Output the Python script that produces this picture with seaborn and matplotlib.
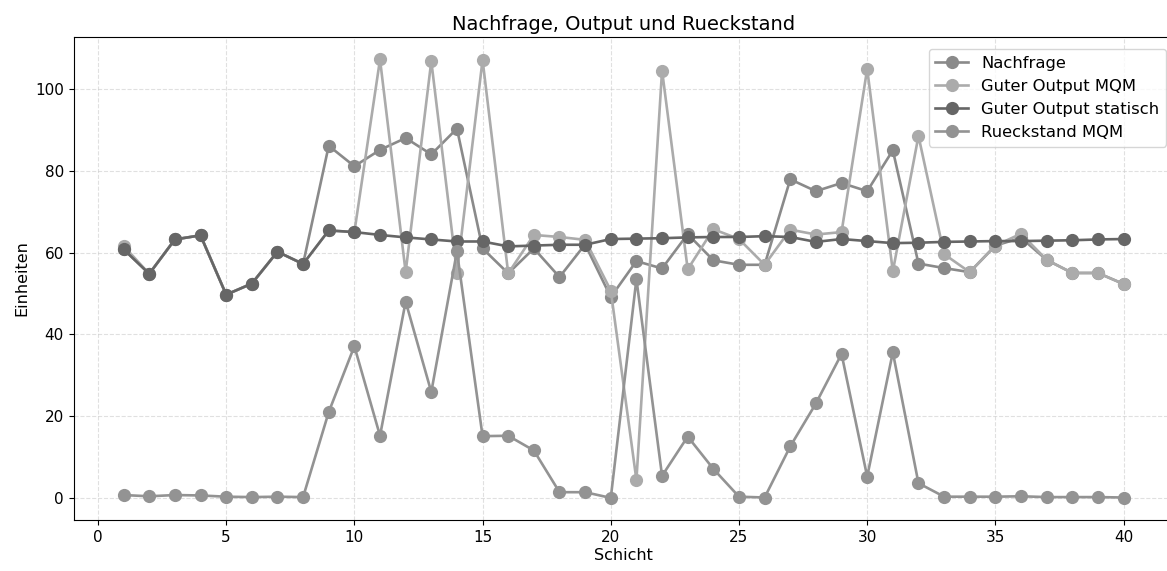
import matplotlib
matplotlib.use("Agg")
import matplotlib.pyplot as plt
import seaborn as sns
import pandas as pd

schicht = list(range(1, 41))

nachfrage = [60.8, 54.8, 63.2, 64.2, 49.7, 52.4, 60.2, 57.2, 86.1, 81.1,
             85.1, 88.0, 84.0, 90.3, 61.0, 54.9, 61.0, 54.0, 62.0, 49.1,
             57.9, 56.1, 64.5, 58.1, 57.0, 57.0, 77.9, 75.0, 77.0, 75.0,
             85.0, 57.3, 56.2, 55.2, 61.7, 63.6, 58.2, 55.0, 55.0, 52.3]

output_mqm = [61.6, 54.8, 63.2, 64.2, 49.7, 52.4, 60.2, 57.2, 65.4, 65.0,
              107.2, 55.2, 106.8, 55.0, 107.1, 54.9, 64.3, 63.8, 63.1, 50.7,
              4.4, 104.5, 55.9, 65.7, 63.3, 57.0, 65.6, 64.4, 65.0, 104.9,
              55.4, 88.5, 59.6, 55.2, 61.7, 64.6, 58.2, 55.0, 55.0, 52.3]

output_statisch = [60.8, 54.8, 63.2, 64.2, 49.7, 52.4, 60.2, 57.2, 65.4, 65.0,
                   64.3, 63.7, 63.2, 62.7, 62.7, 61.5, 61.7, 61.9, 61.9, 63.3,
                   63.4, 63.5, 63.7, 63.8, 63.8, 64.0, 63.8, 62.6, 63.3, 62.8,
                   62.3, 62.4, 62.6, 62.7, 62.8, 62.8, 62.9, 63.0, 63.2, 63.3]

rueckstand = [0.7, 0.4, 0.7, 0.6, 0.3, 0.2, 0.3, 0.2, 21.0, 37.1,
              15.2, 48.0, 25.9, 60.3, 15.1, 15.2, 11.6, 1.4, 1.4, 0.0,
              53.5, 5.4, 15.0, 7.1, 0.3, 0.1, 12.6, 23.1, 35.2, 5.2,
              35.6, 3.6, 0.3, 0.3, 0.3, 0.4, 0.2, 0.2, 0.2, 0.1]

labels = ["Nachfrage", "Guter Output MQM", "Guter Output statisch", "Rueckstand MQM"]
colors = ["#8a8a8a", "#ababab", "#666666", "#939393"]

df = pd.DataFrame({
    "Schicht": schicht,
    labels[0]: nachfrage,
    labels[1]: output_mqm,
    labels[2]: output_statisch,
    labels[3]: rueckstand,
})

plt.rcParams['font.family'] = ['DejaVu Sans']

W, H = 1167, 571
fig = plt.figure(figsize=(W / 100, H / 100), dpi=100)
left = 73.6 / W
bottom = (H - 520) / H
width = 1100 / W
height = (520 - 37) / H
ax = fig.add_axes([left, bottom, width, height])

for lab, col in zip(labels, colors):
    sns.lineplot(data=df, x="Schicht", y=lab, ax=ax, color=col, label=lab,
                 marker="o", markersize=9.5, markeredgewidth=0, linewidth=1.9)

ax.set_xlim(-0.95, 41.95)
ax.set_ylim(-5.4, 112.7)
ax.set_xticks([0, 5, 10, 15, 20, 25, 30, 35, 40])
ax.set_yticks([0, 20, 40, 60, 80, 100])
ax.tick_params(labelsize=11)
ax.spines['right'].set_visible(False)
ax.set_xlabel("Schicht", fontsize=11.5, labelpad=2)
ax.set_ylabel("Einheiten", fontsize=11.5)
ax.set_title("Nachfrage, Output und Rueckstand", fontsize=14, pad=5)
ax.grid(True, linestyle="--", color="#cccccc", alpha=0.6, linewidth=0.8)
ax.legend(loc="upper right", fontsize=11.8, borderaxespad=0)
leg = ax.get_legend()
leg.set_bbox_to_anchor((1166 / W, (H - 49) / H), transform=fig.transFigure)

fig.savefig("out.png", dpi=100)
